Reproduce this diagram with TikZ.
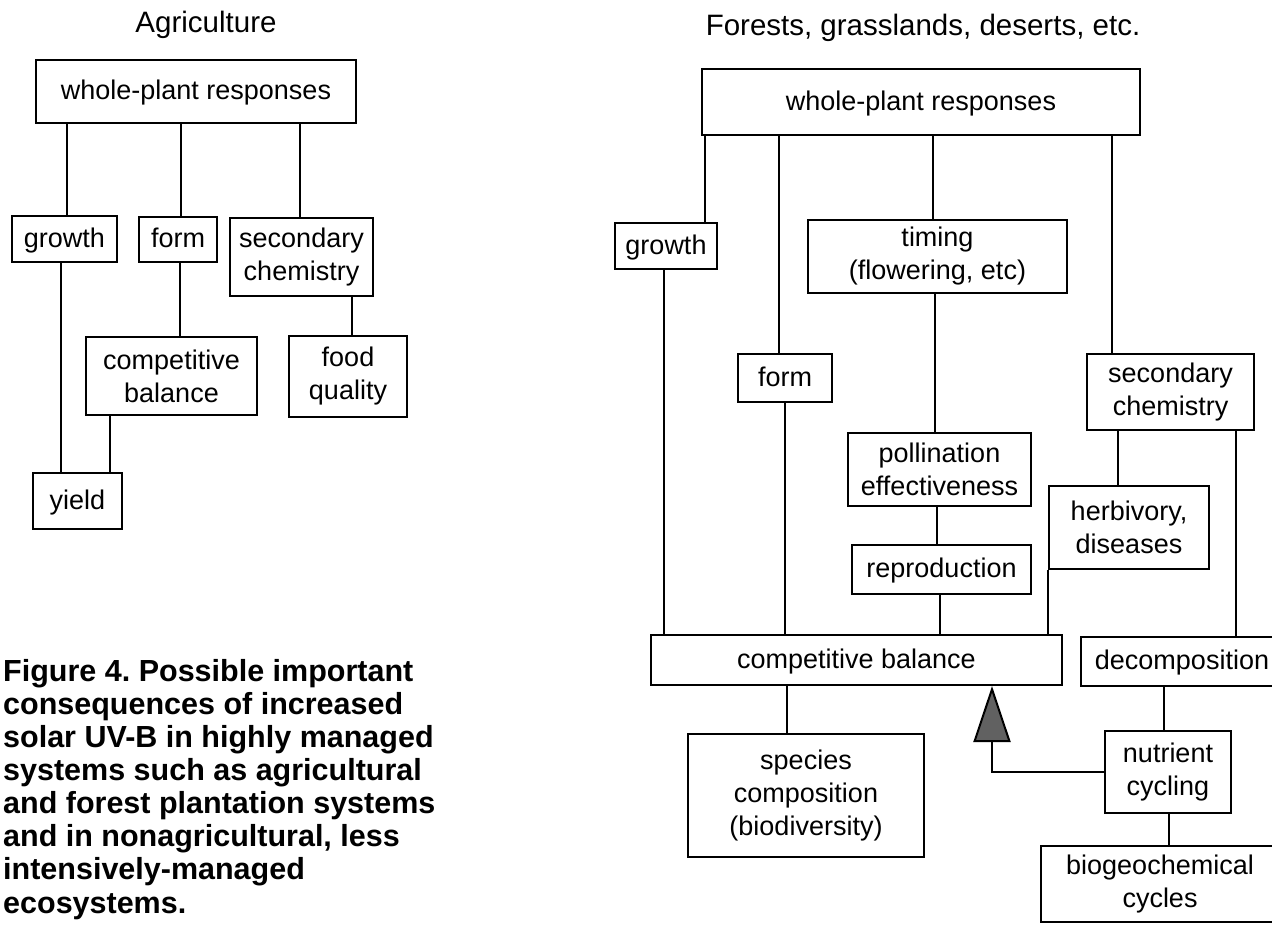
\documentclass[tikz,border=0pt]{standalone}
\usepackage{fontspec}
\setmainfont{Liberation Sans}
\usetikzlibrary{arrows.meta}
\definecolor{arrowgray}{gray}{0.38}
\begin{document}
\frenchspacing
\begin{tikzpicture}[x=1pt,y=-1pt,
  box/.style={draw=black, line width=2pt, inner sep=0pt, align=center,
    font=\fontsize{27}{33}\selectfont},
  one/.style={text height=20.5pt, text depth=4.5pt},
  conn/.style={line width=2pt},
  ttl/.style={font=\fontsize{29.5}{34}\selectfont, inner sep=0pt, anchor=base}]
\useasboundingbox (0,0) rectangle (1272,924);
\clip (0,0) rectangle (1272,924);

% ---------- left: Agriculture ----------
\node[ttl] (Ltitle) at (206,32) {Agriculture};
\node[box, one, minimum width=320pt, minimum height=63pt] (Lwhole) at (196,91.5) {whole-plant responses};
\node[box, one, minimum width=105pt, minimum height=46pt] (Lgrowth) at (64.5,239) {growth};
\node[box, one, minimum width=78pt, minimum height=45pt] (Lform) at (178,239.5) {form};
\node[box, minimum width=143pt, minimum height=78pt] (Lsec) at (301.5,257) {secondary\\chemistry};
\node[box, minimum width=171pt, minimum height=78pt] (Lcomp) at (171.5,376) {competitive\\balance};
\node[box, minimum width=118pt, minimum height=81pt] (Lfood) at (348,376.5) {food\\quality};
\node[box, one, minimum width=89pt, minimum height=56pt] (Lyield) at (77.5,501) {yield};

\draw[conn] (Lwhole.south -| 67,0) -- (Lgrowth.north -| 67,0);
\draw[conn] (Lwhole.south -| 181,0) -- (Lform.north -| 181,0);
\draw[conn] (Lwhole.south -| 300,0) -- (Lsec.north -| 300,0);
\draw[conn] (Lgrowth.south -| 61,0) -- (Lyield.north -| 61,0);
\draw[conn] (Lform.south -| 180,0) -- (Lcomp.north -| 180,0);
\draw[conn] (Lcomp.south -| 110,0) -- (Lyield.north -| 110,0);
\draw[conn] (Lsec.south -| 352,0) -- (Lfood.north -| 352,0);

% ---------- caption ----------
\node[anchor=base west, inner sep=0pt, align=left,
  font=\fontsize{30.5}{33.1}\selectfont\bfseries] (caption) at (3,913)
  {Figure 4. Possible important\\consequences of increased\\solar UV-B in highly managed\\systems such as agricultural\\and forest plantation systems\\and in nonagricultural, less\\intensively-managed\\ecosystems.};

% ---------- right: Forests ----------
\node[ttl] (Rtitle) at (923,35) {Forests, grasslands, deserts, etc.};
\node[box, one, minimum width=438pt, minimum height=66pt] (Rwhole) at (921,102) {whole-plant responses};
\node[box, one, minimum width=102pt, minimum height=46pt] (Rgrowth) at (666,246) {growth};
\node[box, minimum width=259pt, minimum height=73pt] (Rtiming) at (937.5,256.5) {timing\\(flowering, etc)};
\node[box, one, minimum width=94pt, minimum height=48pt] (Rform) at (785,378) {form};
\node[box, minimum width=167pt, minimum height=76pt] (Rsec) at (1170.5,392) {secondary\\chemistry};
\node[box, minimum width=183pt, minimum height=73pt] (Rpoll) at (939.5,469.5) {pollination\\effectiveness};
\node[box, one, minimum width=179pt, minimum height=49pt] (Rrepro) at (941.5,569.5) {reproduction};
\node[box, minimum width=160pt, minimum height=83pt] (Rherb) at (1129,527.5) {herbivory,\\diseases};
\node[box, one, minimum width=411pt, minimum height=50pt] (Rcomp) at (856.5,660) {competitive balance};
\node[box, one, minimum width=202pt, minimum height=49pt] (Rdecomp) at (1182,661.5) {decomposition};
\node[box, minimum width=236pt, minimum height=123pt] (Rspecies) at (806,795.5) {species\\composition\\(biodiversity)};
\node[box, minimum width=126pt, minimum height=82pt] (Rnutr) at (1168,772) {nutrient\\cycling};
\node[box, minimum width=238pt, minimum height=76pt] (Rbio) at (1160,884) {biogeochemical\\cycles};

\draw[conn] (Rwhole.south -| 705,0) -- (Rgrowth.north -| 705,0);
\draw[conn] (Rwhole.south -| 779,0) -- (Rform.north -| 779,0);
\draw[conn] (Rwhole.south -| 933,0) -- (Rtiming.north -| 933,0);
\draw[conn] (Rwhole.south -| 1112,0) -- (Rsec.north -| 1112,0);
\draw[conn] (Rgrowth.south -| 664,0) -- (Rcomp.north -| 664,0);
\draw[conn] (Rform.south -| 785,0) -- (Rcomp.north -| 785,0);
\draw[conn] (Rtiming.south -| 935,0) -- (Rpoll.north -| 935,0);
\draw[conn] (Rpoll.south -| 937,0) -- (Rrepro.north -| 937,0);
\draw[conn] (Rrepro.south -| 940,0) -- (Rcomp.north -| 940,0);
\draw[conn] (Rsec.south -| 1118,0) -- (Rherb.north -| 1118,0);
\draw[conn] (Rherb.south west) -- (Rcomp.north -| Rherb.south west);
\draw[conn] (Rsec.south -| 1236,0) -- (Rdecomp.north -| 1236,0);
\draw[conn] (Rcomp.south -| 787,0) -- (Rspecies.north -| 787,0);
\draw[conn] (Rdecomp.south -| 1164,0) -- (Rnutr.north -| 1164,0);
\draw[conn] (Rnutr.south -| 1169,0) -- (Rbio.north -| 1169,0);
\draw[conn, -{Triangle[length=56pt, width=37pt, fill=arrowgray]}]
  (Rnutr.west) -| (Rcomp.south -| 992,0);
\end{tikzpicture}
\end{document}
